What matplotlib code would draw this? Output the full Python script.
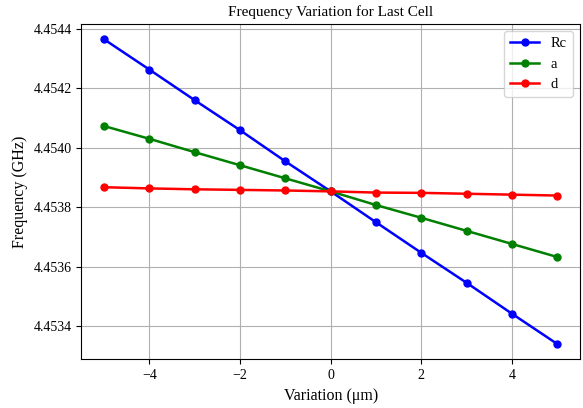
import numpy as np
import matplotlib.pyplot as plt

plt.rcParams['font.family'] = ['Liberation Serif', 'DejaVu Serif']
plt.rcParams['mathtext.fontset'] = 'stix'

# variation in micrometres
variation = [-5, -4, -3, -2, -1, 0, 1, 2, 3, 4, 5]

# frequency (GHz)
freq_Rc = [4.454365, 4.454263, 4.454160, 4.454059, 4.453954, 4.453853,
           4.453749, 4.453646, 4.453545, 4.453441, 4.453339]
freq_a = [4.454073, 4.454030, 4.453985, 4.453941, 4.453897, 4.453853,
          4.453807, 4.453764, 4.453720, 4.453676, 4.453632]
freq_d = [4.453867, 4.453863, 4.453860, 4.453858, 4.453856, 4.453853,
          4.453849, 4.453848, 4.453845, 4.453842, 4.453839]

fig = plt.figure(figsize=(5.83, 4.08), dpi=100)
ax = fig.add_axes([0.1396, 0.1194, 0.8553, 0.8216])

ax.plot(variation, freq_Rc, 'o-', color='blue', lw=1.8, ms=5, label='Rc')
ax.plot(variation, freq_a, 'o-', color='green', lw=1.8, ms=5, label='a')
ax.plot(variation, freq_d, 'o-', color='red', lw=1.8, ms=5, label='d')

ax.set_title('Frequency Variation for Last Cell', fontsize=11)
ax.set_xlabel('Variation (μm)', fontsize=11.5)
ax.set_ylabel('Frequency (GHz)', fontsize=11.5)
ax.tick_params(labelsize=10)
ax.yaxis.get_major_formatter().set_useOffset(False)
ax.grid(True)
ax.legend(loc='upper right', fontsize=10.5)

fig.savefig('out.png', dpi=100)
